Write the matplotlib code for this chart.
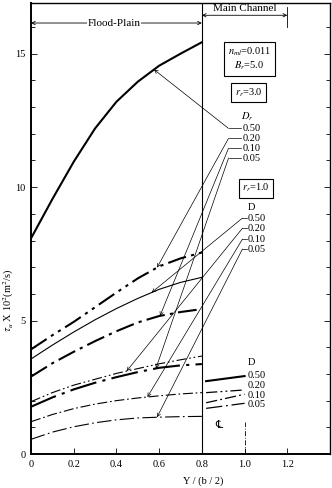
import numpy as np
import matplotlib
matplotlib.use("Agg")
import matplotlib.pyplot as plt

# ---------------- data ----------------
x_grid = [0.0, 0.1, 0.2, 0.3, 0.4, 0.5, 0.6, 0.7, 0.8]
# r_r = 3.0
r3_d50 = [8.08, 9.55, 10.95, 12.2, 13.2, 13.95, 14.55, 15.0, 15.43]
r3_d20 = [3.92, 4.45, 4.95, 5.5, 6.05, 6.58, 7.03, 7.33, 7.55]
r3_d10 = [2.9, 3.4, 3.83, 4.23, 4.6, 4.93, 5.17, 5.32, 5.43]
r3_d05 = [1.77, 2.12, 2.42, 2.67, 2.88, 3.07, 3.23, 3.32, 3.37]
# r_r = 1.0
r1_d50 = [3.56, 4.08, 4.57, 5.03, 5.45, 5.83, 6.17, 6.43, 6.62]
r1_d20 = [1.96, 2.3, 2.58, 2.8, 3.02, 3.2, 3.38, 3.53, 3.67]
r1_d10 = [1.21, 1.48, 1.7, 1.87, 2.0, 2.1, 2.18, 2.25, 2.3]
r1_d05 = [0.55, 0.82, 1.02, 1.17, 1.28, 1.35, 1.38, 1.4, 1.41]

d_labels = ["0.50", "0.20", "0.10", "0.05"]
# arrow-tip x positions on each curve
r3_arrow_x = [0.576, 0.59, 0.604, 0.585]
r1_arrow_x = [0.565, 0.448, 0.545, 0.59]

# legend sample segments (main-channel side)
leg_x = [0.82, 1.0]
leg_y = [[2.73, 2.92], [2.3, 2.4], [1.92, 2.24], [1.71, 1.9]]

xticks = [0, 0.2, 0.4, 0.6, 0.8, 1.0, 1.2]
xticklabels = ["0", "0.2", "0.4", "0.6", "0.8", "1.0", "1.2"]
yticks = [0, 5, 10, 15]

# ---------------- styles ----------------
ls = {
    "0.50": "-",
    "0.20": (0, (9, 2.5, 1.5, 2.5, 1.5, 2.5)),
    "0.10": (0, (9, 2.5, 1.5, 2.5)),
    "0.05": (0, (13, 3, 1.5, 3)),
}

plt.rcParams['font.family'] = ['Liberation Serif', 'DejaVu Serif']
plt.rcParams['mathtext.fontset'] = 'stix'

fig = plt.figure(figsize=(3.32, 4.88), dpi=100)
ax = fig.add_axes([31/332, 34/488, 299/332, 451/488])
ax.set_xlim(0, 1.4)
ax.set_ylim(0, 16.9)

r3 = [r3_d50, r3_d20, r3_d10, r3_d05]
r1 = [r1_d50, r1_d20, r1_d10, r1_d05]
for lab, y in zip(d_labels, r3):
    ax.plot(x_grid, y, color="black", lw=1.5, linestyle=ls[lab])
for lab, y in zip(d_labels, r1):
    ax.plot(x_grid, y, color="black", lw=0.8, linestyle=ls[lab])

# vertical lines
ax.axvline(0.8, color="black", lw=0.8)
ax.plot([1.0, 1.0], [0, 1.2], color="black", lw=0.6, linestyle=(0, (6, 2, 1, 2)))
ax.text(0.88, 1.1, "\u2104", ha="center", va="center", fontsize=8,
        family=['DejaVu Sans'])

# top annotations
ax.annotate("", xy=(0.0, 16.15), xytext=(0.8, 16.15),
            arrowprops=dict(arrowstyle="<->", lw=0.6, color="black",
                            shrinkA=0, shrinkB=0, mutation_scale=6))
ax.text(0.39, 16.15, "Flood-Plain", ha="center", va="center", fontsize=8,
        bbox=dict(facecolor="white", edgecolor="none", pad=0.5))
ax.annotate("", xy=(0.8, 16.44), xytext=(1.2, 16.44),
            arrowprops=dict(arrowstyle="<->", lw=0.6, color="black",
                            shrinkA=0, shrinkB=0, mutation_scale=6))
ax.plot([1.2, 1.2], [16.0, 16.75], color="black", lw=0.6)
ax.text(1.0, 16.68, "Main Channel", ha="center", va="center", fontsize=8)

# boxes
bx = dict(facecolor="white", edgecolor="black", lw=0.8, pad=2.5)
ax.text(1.023, 14.8, "$n_{ml}$=0.011\n$B_r$=5.0", ha="center", va="center",
        fontsize=7.5, bbox=bx, linespacing=1.2)
ax.text(1.018, 13.54, "$r_r$=3.0", ha="center", va="center", fontsize=7.5, bbox=bx)
ax.text(1.053, 9.96, "$r_r$=1.0", ha="center", va="center", fontsize=7.5, bbox=bx)

# label groups with leaders
def group(head_x, head_y, lab_x, lab_ys, seg_x0, curves, arrow_xs, head):
    ax.text(head_x, head_y, head, ha="left", va="center", fontsize=7.5)
    for lab, ly, cy, axx in zip(d_labels, lab_ys, curves, arrow_xs):
        ax.text(lab_x, ly, lab, ha="left", va="center", fontsize=7.5)
        ax.plot([seg_x0, lab_x - 0.005], [ly, ly], color="black", lw=0.5)
        ty = float(np.interp(axx, x_grid, cy))
        ax.annotate("", xy=(axx, ty), xytext=(seg_x0, ly),
                    arrowprops=dict(arrowstyle="->", lw=0.5, color="black",
                                    shrinkA=0, shrinkB=0, mutation_scale=6))

group(0.985, 12.65, 0.99, [12.2, 11.83, 11.46, 11.09], 0.925, r3, r3_arrow_x, "$D_r$")
group(1.015, 9.25, 1.016, [8.84, 8.46, 8.05, 7.68], 0.99, r1, r1_arrow_x, "D")

# legend samples
ax.text(1.015, 3.41, "D", ha="left", va="center", fontsize=7.5)
for lab, yy, ly in zip(d_labels, leg_y, [2.96, 2.58, 2.21, 1.84]):
    lw = 1.5 if lab == "0.50" else 0.9
    ax.plot(leg_x, yy, color="black", lw=lw, linestyle=ls[lab])
    ax.text(1.016, ly, lab, ha="left", va="center", fontsize=7.5)

# axes styling
for s in ax.spines.values():
    s.set_linewidth(1.0)
ax.spines["left"].set_linewidth(1.4)
ax.spines["bottom"].set_linewidth(1.4)
ax.set_xticks(xticks)
ax.set_xticklabels(xticklabels, fontsize=7.5)
ax.set_yticks(yticks)
ax.set_yticklabels([str(t) for t in yticks], fontsize=7.5)
ax.set_yticks(np.arange(0, 17, 1), minor=True)
ax.tick_params(axis="both", which="both", direction="in", right=True, top=False,
               width=0.6)
ax.tick_params(axis="both", which="major", length=4, pad=4)
ax.tick_params(axis="y", which="minor", length=3)
ax.tick_params(axis="x", which="minor", bottom=False)

fig.text(9/332, 1 - 300/488, "$\\tau_u$ X 10$^2$(m$^2$/s)", rotation=90,
         ha="center", va="center", fontsize=7.5)
fig.text(203/332, 1 - 481/488, "Y / (b / 2)", ha="center", va="center", fontsize=7.5)

fig.savefig("out.png", dpi=100)
